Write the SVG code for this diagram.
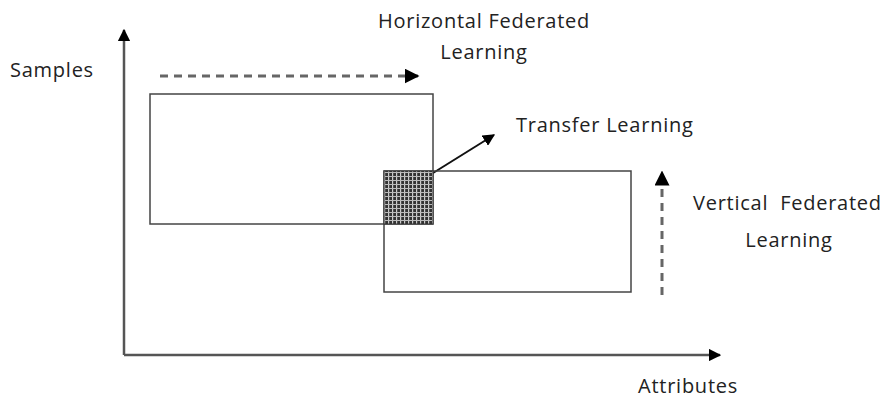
<svg xmlns="http://www.w3.org/2000/svg" width="885" height="401" viewBox="0 0 885 401">
<defs>
<style>
text{font-family:"Open Sans","Liberation Sans",sans-serif;font-size:20px;letter-spacing:0.75px;fill:#222}
.ax{stroke:#555;stroke-width:2.5;fill:none}
.box{stroke:#444;stroke-width:1.5;fill:none}
.dash{stroke:#666;stroke-width:3;stroke-dasharray:8,6;fill:none}
</style>
<marker id="ah" viewBox="0 0 10 10" refX="9" refY="5" markerWidth="5" markerHeight="5" orient="auto" markerUnits="strokeWidth"><path d="M0,0L10,5L0,10z" fill="#000"/></marker>
<marker id="ah2" viewBox="0 0 10 10" refX="9" refY="5" markerWidth="6" markerHeight="6" orient="auto" markerUnits="strokeWidth"><path d="M0,0L10,5L0,10z" fill="#000"/></marker>
<pattern id="hatch" width="4" height="4" patternUnits="userSpaceOnUse"><rect width="4" height="4" fill="#333"/><rect x="0" y="0" width="1.2" height="4" fill="#ccc"/><rect x="0" y="0" width="4" height="1" fill="#bbb"/></pattern>
</defs>
<g id="connectors">
<path class="ax" d="M124,355V30" marker-end="url(#ah)"/>
<path class="ax" d="M124,355H720" marker-end="url(#ah)"/>
<path class="dash" d="M160,76H418" marker-end="url(#ah)"/>
<path class="dash" d="M662,295V172" marker-end="url(#ah)"/>
<path stroke="#111" stroke-width="2" fill="none" d="M425,178L494,135" marker-end="url(#ah2)"/>
</g>
<g id="horizontal-box"><rect class="box" x="150" y="94" width="283" height="130"/></g>
<g id="vertical-box"><rect class="box" x="384" y="171" width="247" height="121"/></g>
<g id="overlap"><rect x="384" y="171" width="49" height="53" fill="url(#hatch)" stroke="#333" stroke-width="1"/></g>
<g id="labels">
<text x="10" y="77">Samples</text>
<text x="484" y="28" text-anchor="middle">Horizontal Federated</text>
<text x="484" y="59" text-anchor="middle">Learning</text>
<text x="516" y="132">Transfer Learning</text>
<text x="693" y="210" xml:space="preserve">Vertical  Federated</text>
<text x="789" y="247" text-anchor="middle">Learning</text>
<text x="638" y="393">Attributes</text>
</g>
</svg>
